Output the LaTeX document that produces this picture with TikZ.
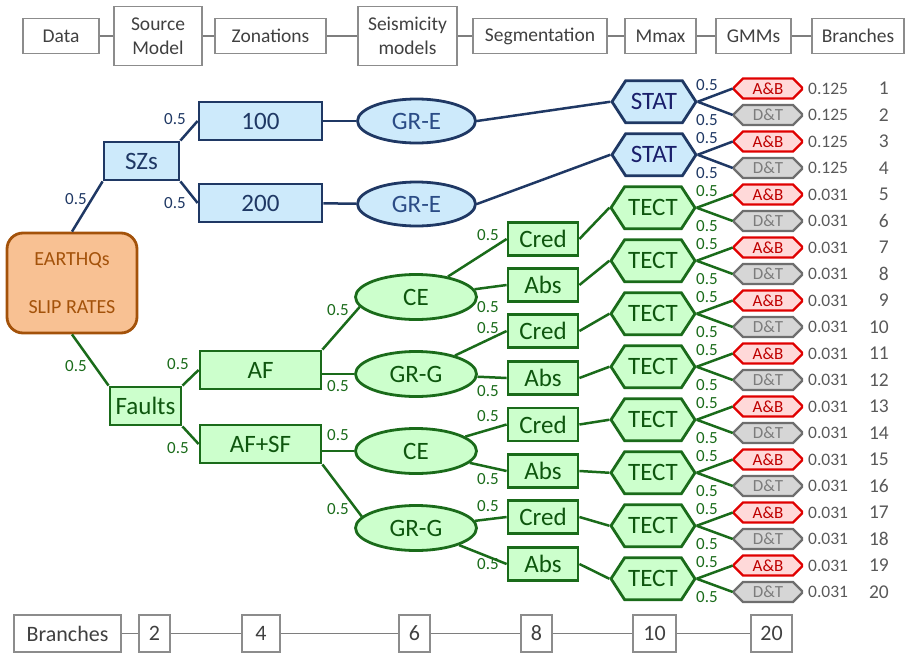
\documentclass[tikz,border=0pt]{standalone}
\usepackage{fontspec}
\setmainfont{Carlito}
\usepackage{tikz}
\usetikzlibrary{shapes.geometric}
\usetikzlibrary{shapes.misc}
\usetikzlibrary{shapes.symbols}

\definecolor{navy}{HTML}{1F3864}
\definecolor{statnavy}{HTML}{1A1F6B}
\definecolor{grenavy}{HTML}{2B4C86}
\definecolor{skyfill}{HTML}{CDEAFB}
\definecolor{leafgreen}{HTML}{1A6B1A}
\definecolor{greentext}{HTML}{0E560E}
\definecolor{mintfill}{HTML}{CCFFCC}
\definecolor{rust}{HTML}{A3520A}
\definecolor{peach}{HTML}{F8C193}
\definecolor{abred}{HTML}{E00000}
\definecolor{abfill}{HTML}{FFD9D9}
\definecolor{dtgrey}{HTML}{6E6E6E}
\definecolor{dtfill}{HTML}{D6D6D6}
\definecolor{framegrey}{HTML}{8C8C8C}
\definecolor{txtgrey}{HTML}{404040}
\definecolor{numgrey}{HTML}{595959}

\newcommand{\setfs}[2]{\fontsize{#1}{#2}\selectfont}

\begin{document}
\begin{tikzpicture}[x=1pt,y=-1pt,
            hdr/.style={draw=framegrey,line width=1.3pt,text=txtgrey,font=\setfs{19.5}{24},
                align=center,minimum height=35,inner sep=0},
            hconn/.style={framegrey!90!black,line width=1.6pt},
            bbox/.style={draw=navy,fill=skyfill,line width=2.8pt,text=navy,font=\setfs{25}{29},
                minimum height=38,inner sep=0},
            gbox/.style={draw=leafgreen,fill=mintfill,line width=2.8pt,text=greentext,font=\setfs{25}{29},
                minimum height=38,inner sep=0},
            bell/.style={bbox,ellipse,text=grenavy,minimum width=118,minimum height=44},
            gell/.style={gbox,ellipse,minimum width=121,minimum height=45},
            stat/.style={bbox,signal,signal to=west and east,signal pointer angle=114,text=statnavy,
                minimum width=84,minimum height=42},
            tect/.style={gbox,signal,signal to=west and east,signal pointer angle=114,
                minimum width=84,minimum height=42},
            ableaf/.style={chamfered rectangle,chamfered rectangle xsep=5pt,chamfered rectangle ysep=4pt,
                draw=abred,fill=abfill,line width=2.4pt,text=abred!85!black,font=\setfs{17}{20},
                minimum width=68,minimum height=20,inner sep=0},
            dtleaf/.style={ableaf,draw=dtgrey,fill=dtfill,text=dtgrey!90},
            wt/.style={anchor=west,text=numgrey,font=\setfs{17.5}{20},inner sep=0},
            idx/.style={anchor=east,text=numgrey,font=\setfs{19.5}{22},inner sep=0},
            bline/.style={navy,line width=2.5pt},
            gline/.style={leafgreen,line width=2.5pt},
            bw/.style={text=navy,font=\setfs{17}{18},inner sep=0},
            gw/.style={text=leafgreen,font=\setfs{17}{18},inner sep=0}
            ]
            \useasboundingbox (0,0) rectangle (911,654);

            % header row
            \node[hdr,minimum width=76] (data) at (61,36) {Data};
            \node[hdr,minimum width=88,minimum height=59] (srcmod) at (158,36) {Source\\Model};
            \node[hdr,minimum width=111] (zonat) at (270.5,36) {Zonations};
            \node[hdr,minimum width=99,minimum height=59] (seism) at (407.5,36) {Seismicity\\models};
            \node[hdr,minimum width=134] (segm) at (540,36) {Segmentation};
            \node[hdr,minimum width=71] (mmax) at (660.5,36) {Mmax};
            \node[hdr,minimum width=75] (gmms) at (753.5,36) {GMMs};
            \node[hdr,minimum width=92] (brtop) at (858,36) {Branches};
            \draw[hconn] (data) -- (srcmod);
            \draw[hconn] (srcmod) -- (zonat);
            \draw[hconn] (zonat) -- (seism);
            \draw[hconn] (seism) -- (segm);
            \draw[hconn] (segm) -- (mmax);
            \draw[hconn] (mmax) -- (gmms);
            \draw[hconn] (gmms) -- (brtop);

            % branch counts
            \node[hdr,minimum width=107,minimum height=37,font=\setfs{22}{26}] (brbot) at (67.5,633.5) {Branches};
            \node[hdr,minimum width=31,minimum height=37,font=\setfs{22}{26}] (c2) at (154.5,633.5) {2};
            \node[hdr,minimum width=38,minimum height=37,font=\setfs{22}{26}] (c4) at (261,633.5) {4};
            \node[hdr,minimum width=31,minimum height=37,font=\setfs{22}{26}] (c6) at (414.5,633.5) {6};
            \node[hdr,minimum width=31,minimum height=37,font=\setfs{22}{26}] (c8) at (536.5,633.5) {8};
            \node[hdr,minimum width=43,minimum height=37,font=\setfs{22}{26}] (c10) at (654.5,633.5) {10};
            \node[hdr,minimum width=41,minimum height=37,font=\setfs{22}{26}] (c20) at (771.5,633.5) {20};
            \draw[hconn] (brbot) -- (c2);
            \draw[hconn] (c2) -- (c4);
            \draw[hconn] (c4) -- (c6);
            \draw[hconn] (c6) -- (c8);
            \draw[hconn] (c8) -- (c10);
            \draw[hconn] (c10) -- (c20);

            % leaves, weights and numbers
            \foreach \i/\w in {1/0.125,2/0.125,3/0.125,4/0.125,5/0.031,6/0.031,7/0.031,8/0.031,
                9/0.031,10/0.031,11/0.031,12/0.031,13/0.031,14/0.031,15/0.031,16/0.031,
                17/0.031,18/0.031,19/0.031,20/0.031} {
                \pgfmathsetmacro\ly{88.5+(\i-1)*26.5}
                \ifodd\i
                    \node[ableaf] (leaf\i) at (768,\ly) {A\&B};
                \else
                    \node[dtleaf] (leaf\i) at (768,\ly) {D\&T};
                \fi
                \node[wt] (w\i) at (808,\ly) {\w};
                \node[idx] (n\i) at (889,\ly) {\i};
            }

            % root
            \node[draw=rust,fill=peach,line width=2.8pt,rounded corners=16pt,text=rust,
                font=\setfs{20}{24},align=center,minimum width=130,minimum height=100,inner sep=0]
                (root) at (72,283) {EARTHQs\\[24pt]SLIP RATES};

            % seismic zones
            \node[bbox,minimum width=75] (szs) at (141.5,161) {SZs};
            \node[bbox,minimum width=123] (z100) at (260.5,121) {100};
            \node[bbox,minimum width=123] (z200) at (260.5,203) {200};
            \node[bell] (gre1) at (416.5,121) {GR-E};
            \node[bell] (gre2) at (416.5,204) {GR-E};
            \draw[bline] (root.north) -- (szs.south west);
            \draw[bline] (szs.north east) -- (z100.west);
            \draw[bline] (szs.south east) -- (z200.west);
            \draw[bline] (z100) -- (gre1);
            \draw[bline] (z200) -- (gre2);
            \node[bw] at (76,199) {0.5};
            \node[bw] at (175,119) {0.5};
            \node[bw] at (175,203) {0.5};
            \foreach \k in {1,2} {
                \pgfmathsetmacro\sy{88.5+(2*\k-1.5)*26.5}
                \node[stat] (stat\k) at (654,\sy) {STAT};
                \pgfmathtruncatemacro\a{2*\k-1}
                \pgfmathtruncatemacro\b{2*\k}
                \draw[bline] (stat\k.east) -- (leaf\a.west);
                \draw[bline] (stat\k.east) -- (leaf\b.west);
                \pgfmathsetmacro\ua{\sy-17}
                \pgfmathsetmacro\ub{\sy+18}
                \node[bw] at (707,\ua) {0.5};
                \node[bw] at (707,\ub) {0.5};
            }
            \draw[bline] (gre1.east) -- (stat1.west);
            \draw[bline] (gre2.east) -- (stat2.west);

            % faults
            \node[gbox,minimum width=71] (faults) at (145.5,406) {Faults};
            \node[gbox,minimum width=121] (af) at (260.5,370) {AF};
            \node[gbox,minimum width=121] (afsf) at (260.5,444) {AF+SF};
            \node[gell] (ce1) at (416,297) {CE};
            \node[gell] (gg1) at (416,374) {GR-G};
            \node[gell] (ce2) at (416,451) {CE};
            \node[gell] (gg2) at (416,528) {GR-G};
            \draw[gline] (root.south) -- (faults.north west);
            \draw[gline] (faults.north east) -- (af.west);
            \draw[gline] (faults.south east) -- (afsf.west);
            \draw[gline] (af.north east) -- (ce1.190);
            \draw[gline] (gg1.west) -- (gg1.west -| af.east);
            \draw[gline] (ce2.west) -- (ce2.west -| afsf.east);
            \draw[gline] (afsf.south east) -- (gg2.168);
            \node[gw] at (76,366) {0.5};
            \node[gw] at (178,364) {0.5};
            \node[gw] at (178,448) {0.5};
            \node[gw] at (338,310) {0.5};
            \node[gw] at (338,386) {0.5};
            \node[gw] at (338,435) {0.5};
            \node[gw] at (338,509) {0.5};

            % segmentation, Mmax and GMM branches
            \foreach \j/\by/\t in {1/239/Cred,2/285/Abs,3/331/Cred,4/378/Abs,
                5/424.5/Cred,6/471/Abs,7/517/Cred,8/564/Abs} {
                \pgfmathsetmacro\ty{88.5+(2*\j+2.5)*26.5}
                \node[gbox,minimum width=70,minimum height=33] (sg\j) at (543,\by) {\t};
                \node[tect] (tect\j) at (653,\ty) {TECT};
                \draw[gline] (sg\j.east) -- (tect\j.west);
                \pgfmathtruncatemacro\a{2*\j+3}
                \pgfmathtruncatemacro\b{2*\j+4}
                \draw[gline] (tect\j.east) -- (leaf\a.west);
                \draw[gline] (tect\j.east) -- (leaf\b.west);
                \pgfmathsetmacro\ua{\ty-17}
                \pgfmathsetmacro\ub{\ty+18}
                \node[gw] at (707,\ua) {0.5};
                \node[gw] at (707,\ub) {0.5};
            }
            \draw[gline] (ce1) -- (sg1.west);
            \draw[gline] (ce1) -- (sg2.west);
            \draw[gline] (gg1) -- (sg3.west);
            \draw[gline] (gg1) -- (sg4.west);
            \draw[gline] (ce2) -- (sg5.west);
            \draw[gline] (ce2) -- (sg6.west);
            \draw[gline] (gg2) -- (sg7.west);
            \draw[gline] (gg2) -- (sg8.west);
            \node[gw] at (488,235) {0.5};
            \node[gw] at (488,307) {0.5};
            \node[gw] at (488,328) {0.5};
            \node[gw] at (488,391) {0.5};
            \node[gw] at (488,416) {0.5};
            \node[gw] at (488,479) {0.5};
            \node[gw] at (488,506) {0.5};
            \node[gw] at (488,564) {0.5};
\end{tikzpicture}
\end{document}
